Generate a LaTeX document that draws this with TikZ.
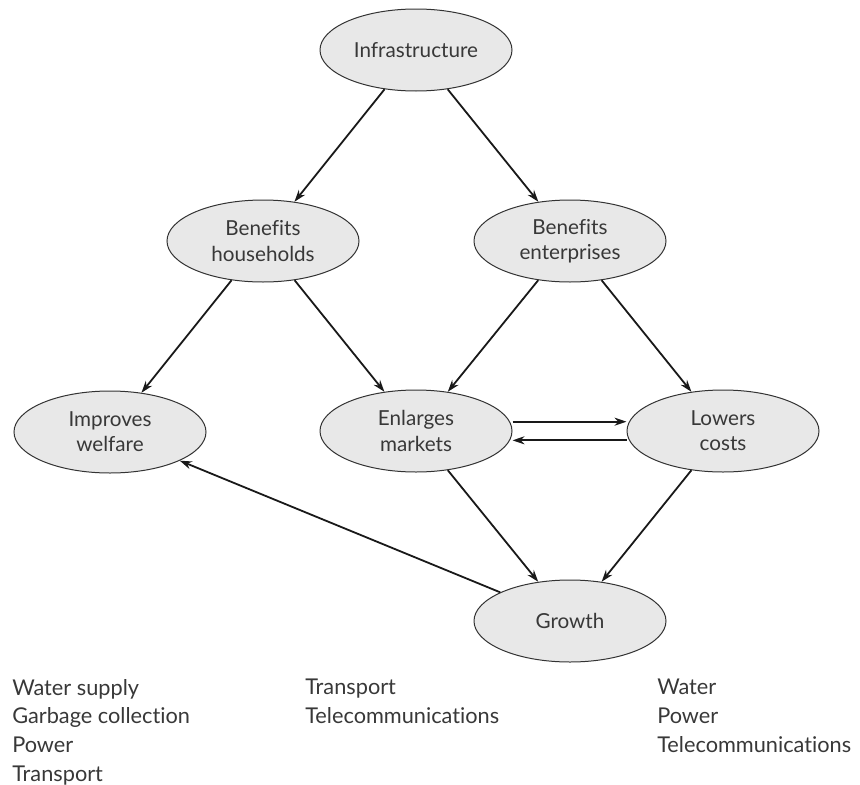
\documentclass[tikz,border=0pt]{standalone}
\usepackage{fontspec}
\setmainfont{Lato}[Ligatures=NoCommon]
\usetikzlibrary{positioning, shapes.geometric, arrows.meta}

\tikzset{
  bubble/.style={ellipse, draw=black!80, fill=black!9, line width=0.75pt,
    minimum width=144pt, minimum height=61.5pt, inner sep=0pt,
    align=center, text=black!78, font=\fontsize{15.5}{19}\selectfont},
  link/.style={-{Stealth[length=9pt,width=6pt]}, line width=1.35pt, black!90},
  listtext/.style={anchor=north west, align=left, inner sep=0pt,
    text=black!78, font=\fontsize{16.3}{21.5}\selectfont}
}

\begin{document}
\begin{tikzpicture}[x=0.75pt, y=-0.75pt] % 1 unit = 1 px of the reference

\useasboundingbox (0,0) rectangle (860,785);

% the seven bubbles
\node[bubble] (infra) at (416,50) {Infrastructure};
\node[bubble] (house) at (263,241) {Benefits\\households};
\node[bubble] (firms) at (570,241) {Benefits\\enterprises};
\node[bubble] (welfare) at (110,432) {Improves\\welfare};
\node[bubble] (markets) at (416,431) {Enlarges\\markets};
\node[bubble] (costs) at (723,431) {Lowers\\costs};
\node[bubble] (growth) at (570,621) {Growth};

% links
\draw[link] (infra) -- (house);
\draw[link] (infra) -- (firms);
\draw[link] (house) -- (welfare);
\draw[link] (house) -- (markets);
\draw[link] (firms) -- (markets);
\draw[link] (firms) -- (costs);
\draw[link] ([yshift=7pt]markets.east) -- ([yshift=7pt]costs.west);
\draw[link] ([yshift=-7pt]costs.west) -- ([yshift=-7pt]markets.east);
\draw[link] (markets) -- (growth);
\draw[link] (costs) -- (growth);
\draw[link] (growth) -- (welfare);

% lists under the picture
\node[listtext] (listhouse) at (12,679) {Water supply\\Garbage collection\\Power\\Transport};
\node[listtext] (listfirms) at (305,679) {Transport\\Telecommunications};
\node[listtext] (listcosts) at (657,679) {Water\\Power\\Telecommunications};

\end{tikzpicture}
\end{document}
